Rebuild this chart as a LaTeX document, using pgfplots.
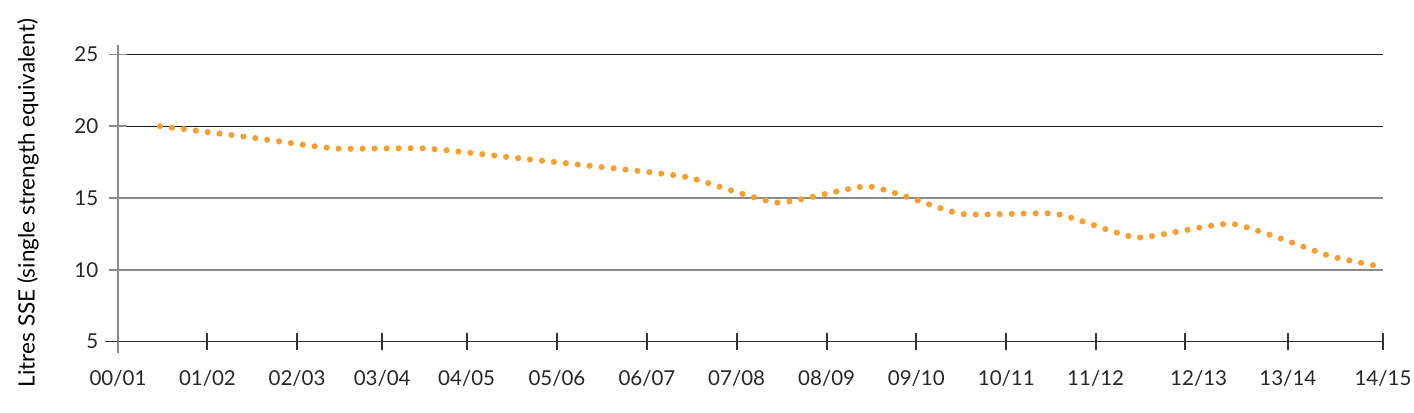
\documentclass[border=0pt]{standalone}
\usepackage{pgfplots}
\pgfplotsset{compat=1.18}
\usepackage{fontspec}
\setmainfont{Lato}
\definecolor{dotor}{HTML}{F7A032}
\definecolor{gridg}{HTML}{8A8A8A}
\definecolor{axd}{HTML}{333333}
\begin{document}
\begin{tikzpicture}
\path[use as bounding box] (-59bp,-35.65bp) rectangle (648bp,170.85bp);
\begin{axis}[
  at={(0,0)}, anchor=south west,
  scale only axis, width=632.5bp, height=148.35bp,
  xmin=0, xmax=14, ymin=5, ymax=25.65,
  clip=false,
  axis x line*=bottom, axis y line*=left,
  x axis line style={axd, line width=0.75bp},
  y axis line style={gridg, line width=0.7bp},
  xtick={0,0.990,1.982,2.924,3.859,4.858,5.854,6.847,7.843,8.835,9.831,10.820,11.805,12.947,14},
  xticklabels={00/01,01/02,02/03,03/04,04/05,05/06,06/07,07/08,08/09,09/10,10/11,11/12,\hspace*{14bp}12/13,13/14,14/15},
  ytick={5,10,15},
  extra y ticks={20,25},
  extra y tick style={grid style={black!90, line width=0.5bp}, tick style={black!90, line width=0.5bp}},
  ymajorgrids=true,
  grid style={gridg, line width=0.7bp},
  tick align=center,
  major tick length=8.75bp,
  x tick style={axd, line width=1bp},
  y tick style={gridg, line width=0.7bp},
  /pgf/number format/assume math mode=true,
  tick label style={font=\fontsize{10.3}{12}\selectfont, text=black!85},
  xticklabel style={yshift=-6.5bp},
  yticklabel style={xshift=-2bp},
  every axis y label/.style={at={(axis description cs:-0.0711,0.4675)}, anchor=center, rotate=90, font=\fontsize{11.3}{13}\selectfont},
  ylabel={Litres SSE (single strength equivalent)},
]
\addplot[dotor, line width=3.1bp, line cap=round, dash pattern=on 0pt off 6bp, smooth, tension=0.3] coordinates {
(0.465,20.0) (1.486,19.2) (2.40,18.45) (3.40,18.45) (4.36,17.82) (5.36,17.15) (6.30,16.45)
(7.30,14.68) (8.31,15.81) (9.33,13.9) (10.38,13.9) (11.28,12.25) (12.33,13.2) (13.42,10.95) (14.0,10.2)
};
\draw[axd, line width=0.75bp] (axis cs:0,5) -- ++(-6.5bp,0bp);
\draw[gridg, line width=0.7bp] (axis cs:0,5) -- ++(0bp,-5.5bp);
\end{axis}
\end{tikzpicture}
\end{document}
